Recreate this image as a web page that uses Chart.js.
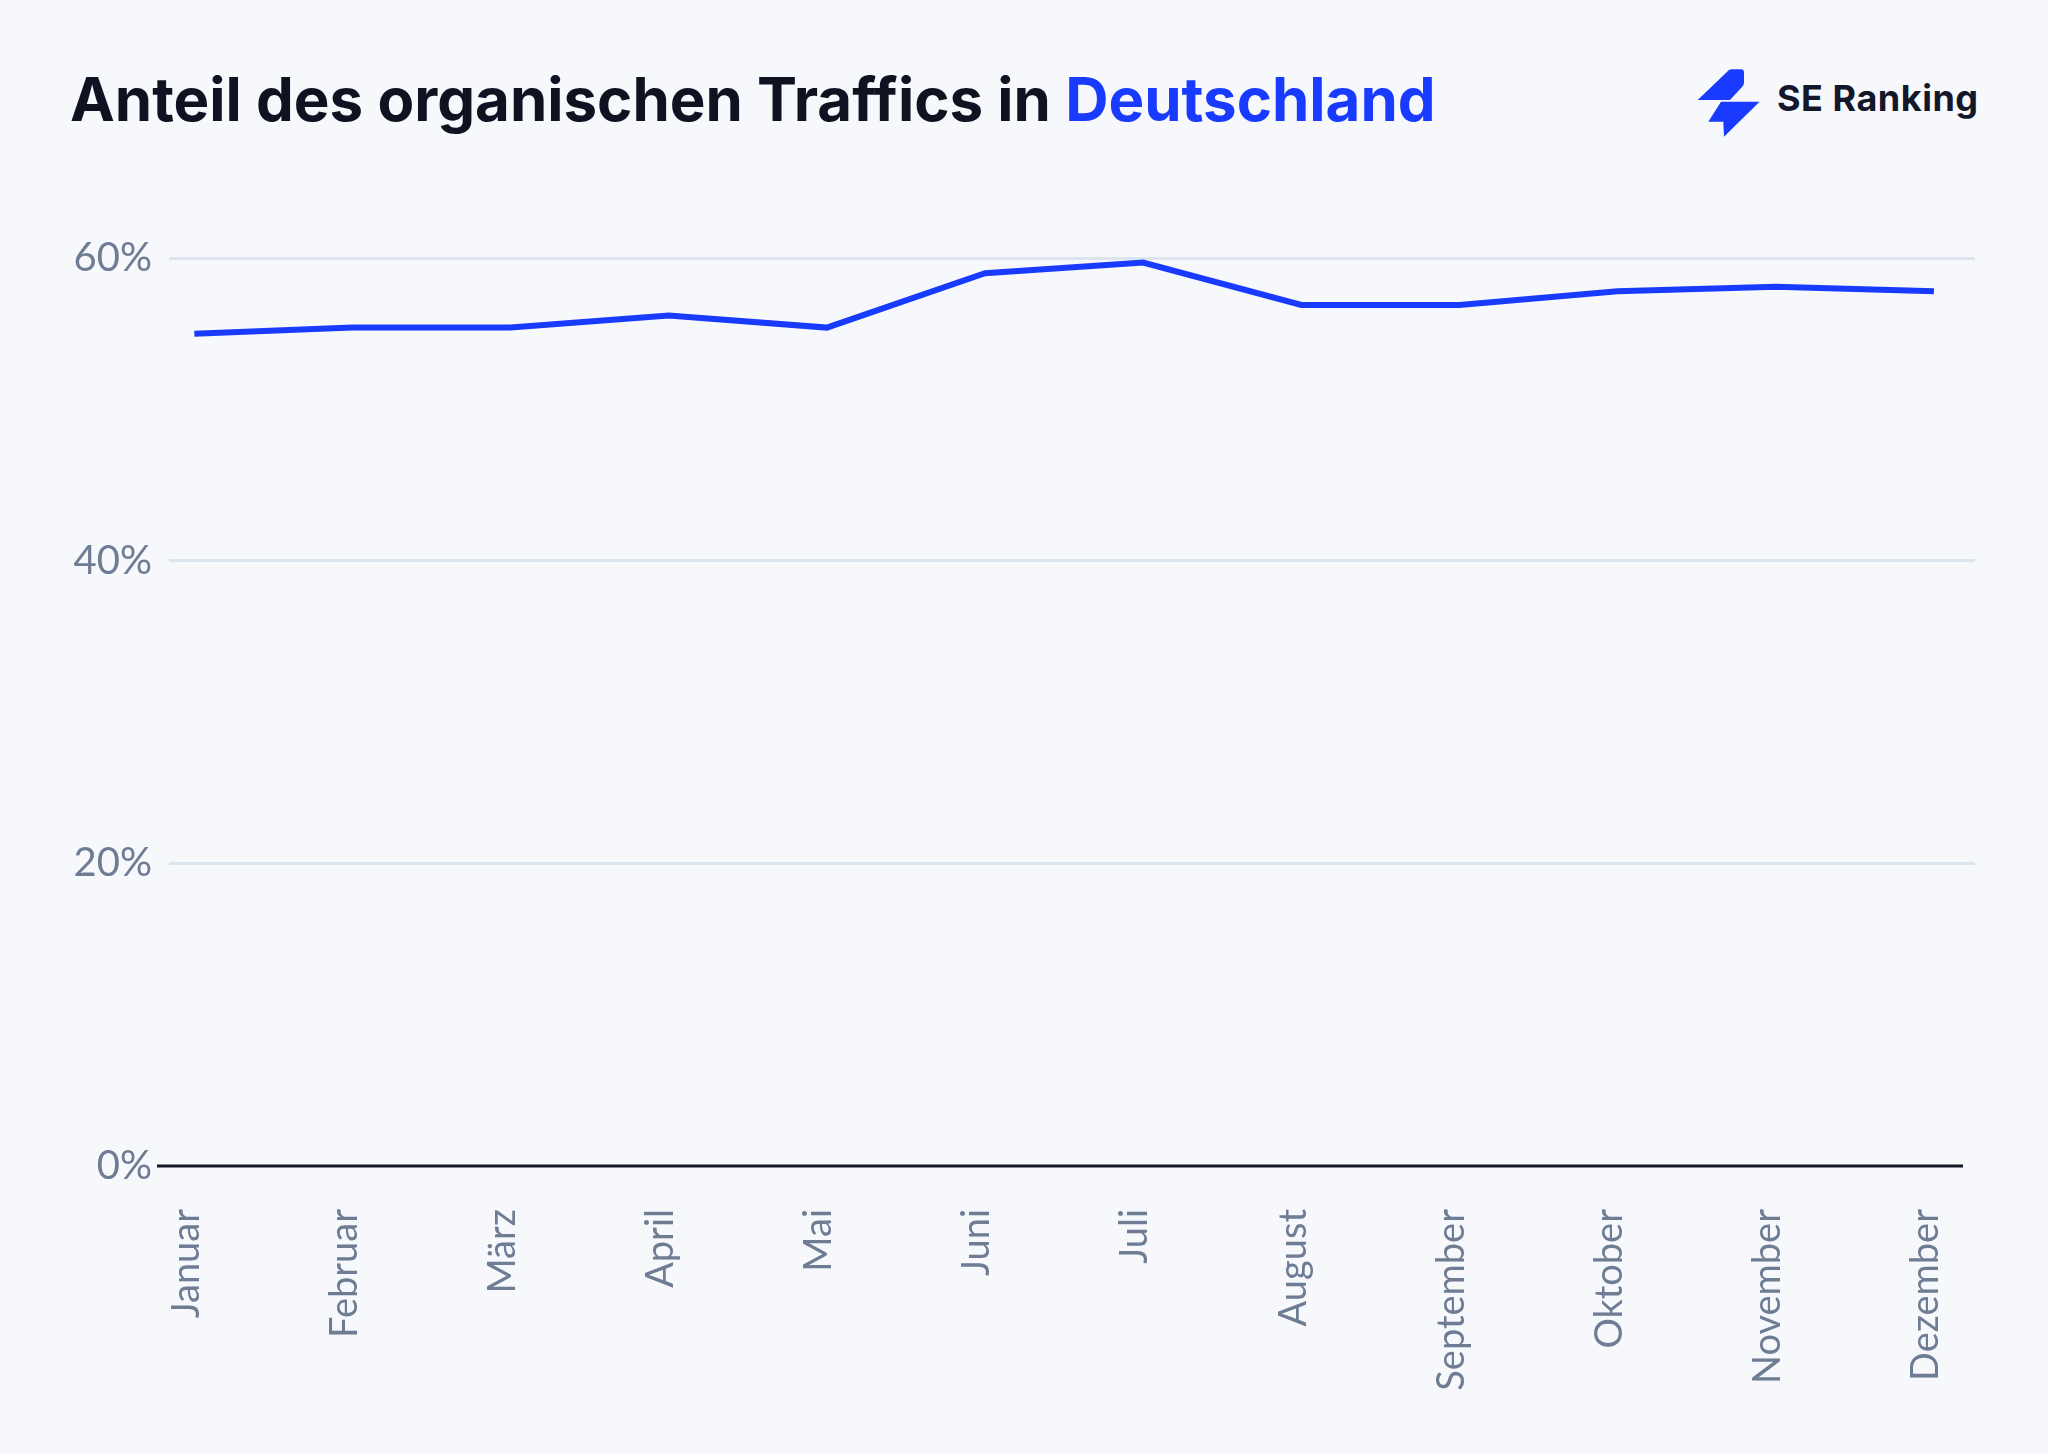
<!DOCTYPE html>
<html lang="de">
<head>
<meta charset="utf-8">
<title>Anteil des organischen Traffics in Deutschland</title>
<script src="https://cdn.jsdelivr.net/npm/chart.js@4/dist/chart.umd.min.js"></script>
<style>
    html, body { margin: 0; padding: 0; }
    body { width: 2048px; height: 1454px; background: #f6f8fc; position: relative; overflow: hidden; }
    .title { position: absolute; left: 70px; top: 69px; font: 700 60px Inter, sans-serif; line-height: 1; letter-spacing: 0px; color: #0f1221; white-space: nowrap; }
    .title span { color: #183bff; }
    .logo { position: absolute; left: 1696px; top: 68px; }
    .logo-text { position: absolute; left: 1777px; top: 80px; font: 700 36px Inter, sans-serif; line-height: 1; letter-spacing: 0.5px; color: #13172a; white-space: nowrap; }
    #chartWrap { position: absolute; left: 0; top: 0; width: 2048px; height: 1454px; }
</style>
</head>
<body>
<div class="title">Anteil des organischen Traffics in <span>Deutschland</span></div>
<svg class="logo" width="70" height="72" viewBox="1696 68 70 72">
    <path d="M1697.7 100 L1729 70 Q1730 69.3 1732 69.3 L1741 69.3 Q1744 69.3 1744 72.5 L1744 83 Q1744 85 1742 87 L1730 100 Z" fill="#183bff"/>
    <path d="M1721 101.7 L1759.5 101.7 L1724 136.7 L1723.3 121.7 L1708.3 121.7 Z" fill="#183bff"/>
</svg>
<div class="logo-text">SE Ranking</div>
<div id="chartWrap"><canvas id="trafficChart"></canvas></div>
<script>
const months = ["Januar", "Februar", "März", "April", "Mai", "Juni", "Juli", "August", "September", "Oktober", "November", "Dezember"];
const organicShare = [55.0, 55.4, 55.4, 56.2, 55.4, 59.0, 59.7, 56.9, 56.9, 57.8, 58.1, 57.8];
const yTicks = [0, 20, 40, 60];

document.addEventListener("DOMContentLoaded", function () {
    const ctx = document.getElementById("trafficChart").getContext("2d");

    // dark zero line, slightly shifted left like in the original
    const baseLine = {
        id: "baseLine",
        beforeDatasetsDraw(chart) {
            const y0 = chart.scales.y.getPixelForValue(0);
            const area = chart.chartArea;
            const c = chart.ctx;
            c.save();
            c.strokeStyle = "#131722";
            c.lineWidth = 3;
            c.beginPath();
            c.moveTo(area.left - 12, y0);
            c.lineTo(area.right - 12, y0);
            c.stroke();
            c.restore();
        }
    };

    new Chart(ctx, {
        type: "line",
        data: {
            datasets: [{
                label: "Anteil organischer Traffic",
                data: months.map((m, i) => ({ x: i, y: organicShare[i] })),
                borderColor: "#183bff",
                borderWidth: 6,
                pointRadius: 0,
                tension: 0,
                borderJoinStyle: "miter",
                fill: false
            }]
        },
        options: {
            responsive: true,
            maintainAspectRatio: false,
            animation: false,
            layout: { padding: { left: 0, top: 258, right: 73, bottom: 40 } },
            plugins: {
                legend: { display: false },
                tooltip: { enabled: false }
            },
            scales: {
                x: {
                    type: "linear",
                    min: -0.16,
                    max: 11.26,
                    afterFit: scale => { scale.height = 248; },
                    afterBuildTicks: scale => {
                        scale.ticks = months.map((m, i) => ({ value: i }));
                    },
                    grid: { display: false, drawTicks: false },
                    border: { display: false },
                    ticks: {
                        autoSkip: false,
                        minRotation: 90,
                        maxRotation: 90,
                        padding: 43,
                        labelOffset: -8,
                        color: "#6e7c94",
                        font: { family: "Lato", size: 38 },
                        callback: value => months[value]
                    }
                },
                y: {
                    min: 0,
                    max: 60,
                    afterFit: scale => { scale.width = 169; },
                    afterBuildTicks: scale => {
                        scale.ticks = yTicks.map(v => ({ value: v }));
                    },
                    grid: {
                        drawTicks: false,
                        lineWidth: 3,
                        color: c => (c.tick && c.tick.value === 0) ? "rgba(0,0,0,0)" : "#dce4f0"
                    },
                    border: { display: false },
                    ticks: {
                        padding: 17,
                        color: "#6e7c94",
                        font: { family: "Lato", size: 40 },
                        callback: value => value + "%"
                    }
                }
            }
        },
        plugins: [baseLine]
    });
});
</script>
</body>
</html>
